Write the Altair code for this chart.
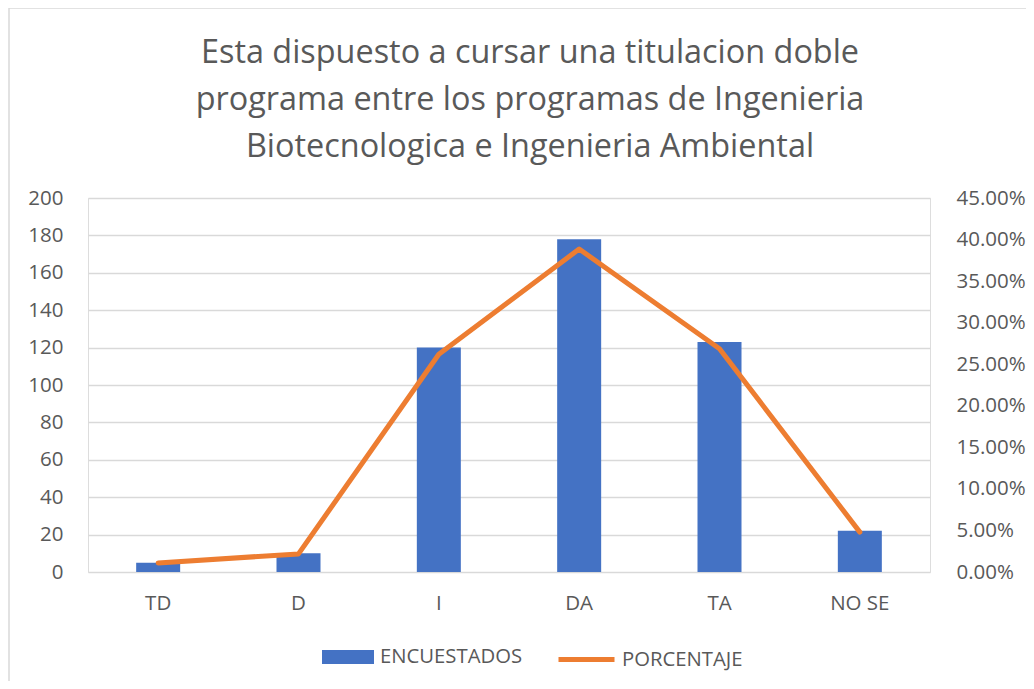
import altair as alt
import pandas as pd

categorias = ["TD", "D", "I", "DA", "TA", "NO SE"]
encuestados = [5, 10, 120, 178, 123, 22]
porcentaje = [0.0109, 0.0218, 0.2620, 0.3886, 0.2686, 0.0480]
left_ticks = [0, 20, 40, 60, 80, 100, 120, 140, 160, 180, 200]
right_ticks = [0, 0.05, 0.10, 0.15, 0.20, 0.25, 0.30, 0.35, 0.40, 0.45]
titulo = [
    "Esta dispuesto a cursar una titulacion doble",
    "programa entre los programas de Ingenieria",
    "Biotecnologica e Ingenieria Ambiental",
]

df = pd.DataFrame({
    "cat": categorias,
    "enc": encuestados,
    "pct": porcentaje,
    "s1": ["ENCUESTADOS"] * len(categorias),
    "s2": ["PORCENTAJE"] * len(categorias),
})

FONT = "Open Sans"
GRAY = "#595959"
TICK = 20.5

base = alt.Chart(df)

xenc = alt.X(
    "cat:N", sort=categorias, title=None,
    scale=alt.Scale(paddingInner=0, paddingOuter=0),
    axis=alt.Axis(labelAngle=0, domain=False, ticks=False, labelPadding=21,
                  labelFontSize=TICK, labelColor=GRAY, labelFont=FONT, grid=False),
)

bars = base.mark_bar(size=44).encode(
    x=xenc,
    y=alt.Y("enc:Q", title=None, scale=alt.Scale(domain=[0, 200], nice=False),
            axis=alt.Axis(orient="left", values=left_ticks, domain=False, ticks=False,
                          labelPadding=25, labelFontSize=TICK, labelColor=GRAY, labelFont=FONT,
                          grid=True, gridColor="#D9D9D9", gridWidth=1.5)),
    fill=alt.Fill("s1:N", title=None,
                  scale=alt.Scale(domain=["ENCUESTADOS"], range=["#4472C4"]),
                  legend=alt.Legend(orient="none", legendX=234, legendY=433,
                                    symbolType="M-1,-0.27H1V0.27H-1Z", symbolSize=2704,
                                    symbolStrokeWidth=0, labelFontSize=20.3, labelColor=GRAY,
                                    labelFont=FONT, labelOffset=6)),
)

line = base.mark_line(strokeWidth=5, strokeCap="round", strokeJoin="round").encode(
    x=xenc,
    y=alt.Y("pct:Q", title=None, scale=alt.Scale(domain=[0, 0.45], nice=False),
            axis=alt.Axis(orient="right", values=right_ticks, format=".2%", domain=False,
                          ticks=False, labelPadding=26, labelFontSize=TICK, labelColor=GRAY,
                          labelFont=FONT, grid=False)),
    stroke=alt.Stroke("s2:N", title=None,
                      scale=alt.Scale(domain=["PORCENTAJE"], range=["#ED7D31"]),
                      legend=alt.Legend(orient="none", legendX=468, legendY=431,
                                        symbolType="stroke", symbolSize=3136,
                                        symbolStrokeWidth=5, labelFontSize=20.3, labelColor=GRAY,
                                        labelFont=FONT, labelOffset=5)),
)

marco = alt.Chart(pd.DataFrame({"k": [0]})).mark_rect(
    filled=False, stroke="#D9D9D9", strokeWidth=1.5
).encode(
    x=alt.value(-79), x2=alt.value(960), y=alt.value(-190), y2=alt.value(510)
)

chart = alt.layer(marco, bars, line).resolve_scale(y="independent").properties(
    width=842,
    height=374,
    autosize=alt.AutoSizeParams(type="none"),
    padding={"left": 80, "top": 190, "right": 96, "bottom": 109},
    title=alt.TitleParams(text=titulo, fontSize=32.4, font=FONT, color=GRAY,
                          fontWeight="normal", lineHeight=47, anchor="middle",
                          offset=-156, dx=21),
).configure_view(strokeWidth=0).configure(background="white")

chart.save("out.html", embed_options={"renderer": "svg", "actions": False})
